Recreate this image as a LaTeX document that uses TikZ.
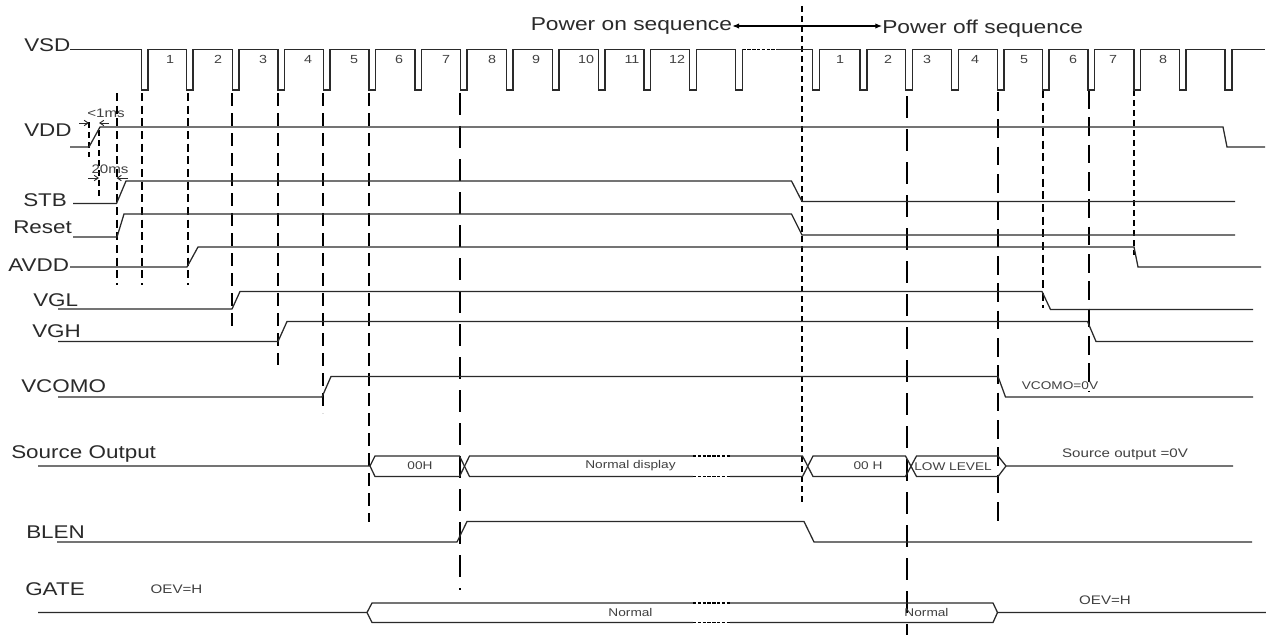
\documentclass[tikz,border=0pt]{standalone}
\usepackage{fontspec}
\setmainfont{Liberation Sans}
\newfontfamily\widefont[FakeStretch=1.22]{Liberation Sans}
\usetikzlibrary{arrows.meta}
\definecolor{ink}{HTML}{2A2A2A}
\definecolor{txt}{HTML}{2A2A2A}
\definecolor{smalltxt}{HTML}{404040}
\tikzset{
  wave/.style={draw=ink,line width=0.95pt,line join=miter},
  dots/.style={draw=black,line width=1.1pt,dash pattern=on 2.6pt off 1pt},
  guide/.style={draw=black,line width=1.3pt,dash pattern=on 10pt off 5pt},
  guidelong/.style={draw=black,line width=1.3pt,dash pattern=on 16.5pt off 8.25pt},
  guidemid/.style={draw=black,line width=1.3pt,dash pattern=on 14pt off 6.5pt},
  guideshort/.style={draw=black,line width=1.3pt,dash pattern=on 6pt off 3.5pt},
  guidefine/.style={draw=black,line width=1.3pt,dash pattern=on 4.5pt off 3pt},
  sig/.style={text=txt,font=\widefont\fontsize{13.8}{16}\selectfont,inner sep=0pt},
  num/.style={text=smalltxt,font=\widefont\fontsize{8.8}{10}\selectfont,inner sep=0pt},
  lab/.style={text=smalltxt,font=\widefont\fontsize{8.4}{10}\selectfont,inner sep=0pt},
  labbig/.style={text=smalltxt,font=\widefont\fontsize{9.3}{11}\selectfont,inner sep=0pt},
  seq/.style={text=txt,font=\widefont\fontsize{14}{16}\selectfont,inner sep=0pt},
  dim/.style={draw=ink,line width=0.7pt,-{Straight Barb[length=3pt,width=4pt]}},
  seqarrow/.style={draw=black,line width=0.8pt,-{Latex[length=5pt,width=4pt]}}
}
\begin{document}
\begin{tikzpicture}[x=0.75pt,y=-0.75pt]
\useasboundingbox (0,0) rectangle (1266,635);
% guides
\draw[guidefine] (89,122) -- (89,157);
\draw[guidefine] (99,130) -- (99,200);
\draw[guideshort] (117,93) -- (117,285);
\draw[guideshort] (142,93) -- (142,285);
\draw[guideshort] (188,93) -- (188,285);
\draw[guide] (232,93) -- (232,331);
\draw[guide] (278,93) -- (278,365);
\draw[guide] (323,93) -- (323,413);
\draw[guide] (369,93) -- (369,522);
\draw[guidelong] (460,93) -- (460,590);
\draw[guidefine] (802,6) -- (802,506);
\draw[guidelong] (907,96) -- (907,635);
\draw[guidemid] (998,92) -- (998,522);
\draw[guideshort] (1043,90) -- (1043,308);
\draw[guidemid] (1089,90) -- (1089,392);
\draw[guidefine] (1134,90) -- (1134,255);
% VSD
\draw[wave] (70,49.5) -- (141.5,49.5)
 -- (141.5,90) -- (148,90) -- (148,49.5) -- (186.5,49.5)
 -- (186.5,90) -- (193,90) -- (193,49.5) -- (232.5,49.5)
 -- (232.5,90) -- (239,90) -- (239,49.5) -- (278,49.5)
 -- (278,90) -- (284.5,90) -- (284.5,49.5) -- (323.5,49.5)
 -- (323.5,90) -- (330,90) -- (330,49.5) -- (369,49.5)
 -- (369,90) -- (375.5,90) -- (375.5,49.5) -- (415,49.5)
 -- (415,90) -- (421.5,90) -- (421.5,49.5) -- (460.5,49.5)
 -- (460.5,90) -- (467,90) -- (467,49.5) -- (506.5,49.5)
 -- (506.5,90) -- (513,90) -- (513,49.5) -- (552.5,49.5)
 -- (552.5,90) -- (559,90) -- (559,49.5) -- (598.5,49.5)
 -- (598.5,90) -- (605,90) -- (605,49.5) -- (644,49.5)
 -- (644,90) -- (650.5,90) -- (650.5,49.5) -- (689.5,49.5)
 -- (689.5,90) -- (696.5,90) -- (696.5,49.5) -- (735.5,49.5)
 -- (735.5,90) -- (742.5,90) -- (742.5,49.5);
\draw[dots] (742.5,49.5) -- (776,49.5);
\draw[wave] (776,49.5) -- (812.5,49.5)
 -- (812.5,90) -- (819.5,90) -- (819.5,49.5) -- (860,49.5)
 -- (860,90) -- (867,90) -- (867,49.5) -- (905.5,49.5)
 -- (905.5,90) -- (912.5,90) -- (912.5,49.5) -- (951.5,49.5)
 -- (951.5,90) -- (958.5,90) -- (958.5,49.5) -- (997.5,49.5)
 -- (997.5,90) -- (1004,90) -- (1004,49.5) -- (1042.5,49.5)
 -- (1042.5,90) -- (1049,90) -- (1049,49.5) -- (1088,49.5)
 -- (1088,90) -- (1094.5,90) -- (1094.5,49.5) -- (1134,49.5)
 -- (1134,90) -- (1140.5,90) -- (1140.5,49.5) -- (1179.5,49.5)
 -- (1179.5,90) -- (1186,90) -- (1186,49.5) -- (1225,49.5)
 -- (1225,90) -- (1232,90) -- (1232,49.5) -- (1265,49.5);
% levels
\draw[wave] (70,147) -- (89,147) -- (100,127) -- (1223,127) -- (1227,147) -- (1265,147);
\draw[wave] (73,203.5) -- (116.5,203.5) -- (126,181) -- (791.5,181) -- (802,201.5) -- (1235,201.5);
\draw[wave] (73,237) -- (117,237) -- (124,214) -- (791.5,214) -- (802,235) -- (1235,235);
\draw[wave] (70,267) -- (187,267) -- (198,247) -- (1134,247) -- (1138,267) -- (1261,267);
\draw[wave] (58,309) -- (232,309) -- (240,291.5) -- (1042,291.5) -- (1050.5,309.5) -- (1253,309.5);
\draw[wave] (58,341.5) -- (278,341.5) -- (287,321.5) -- (1087.5,321.5) -- (1096,341.5) -- (1253,341.5);
\draw[wave] (58,397) -- (322,397) -- (331,376.5) -- (998,376.5) -- (1005.5,397) -- (1253,397);
% Source Output
\draw[wave] (38,466) -- (370,466) -- (375,456) -- (459.5,456) -- (469.5,476.5) -- (693,476.5);
\draw[wave] (370,466) -- (375,476.5) -- (459.5,476.5) -- (469.5,456) -- (693,456);
\draw[dots] (693,456) -- (730,456);
\draw[dots] (693,476.5) -- (730,476.5);
\draw[wave] (730,456) -- (802.5,456) -- (813,476.5) -- (905.5,476.5) -- (916.5,456) -- (998,456) -- (1006,466) -- (1233,466);
\draw[wave] (730,476.5) -- (802.5,476.5) -- (813,456) -- (905.5,456) -- (916.5,476.5) -- (998,476.5) -- (1006,466);
% BLEN
\draw[wave] (57,542) -- (457,542) -- (467,521.5) -- (804,521.5) -- (814,542) -- (1252,542);
% GATE
\draw[wave] (38,612.5) -- (367,612.5) -- (372,603) -- (693,603);
\draw[wave] (367,612.5) -- (372,622.5) -- (693,622.5);
\draw[dots] (693,603) -- (730,603);
\draw[dots] (693,622.5) -- (730,622.5);
\draw[wave] (730,603) -- (993,603) -- (997.5,612.5) -- (1266,612.5);
\draw[wave] (730,622.5) -- (993,622.5) -- (997.5,612.5);
% labels
\node[sig,anchor=west] (vsd) at (24,45) {VSD};
\node[sig,anchor=west] (vdd) at (24,130) {VDD};
\node[sig,anchor=west] (stb) at (23,200) {STB};
\node[sig,anchor=west] (reset) at (13,227) {Reset};
\node[sig,anchor=west] (avdd) at (8,265) {AVDD};
\node[sig,anchor=west] (vgl) at (33,300) {VGL};
\node[sig,anchor=west] (vgh) at (32,331) {VGH};
\node[sig,anchor=west] (vcomo) at (21,386) {VCOMO};
\node[sig,anchor=west] (srcout) at (11,453.5) {Source Output};
\node[sig,anchor=west] (blen) at (26,532) {BLEN};
\node[sig,anchor=west] (gate) at (25,589) {GATE};
\foreach \n/\x/\t in {a1/170/1,a2/218/2,a3/263/3,a4/308/4,a5/354/5,a6/399/6,a7/446/7,a8/492/8,a9/536/9,a10/586/10,a11/632/11,a12/677/12,
  b1/840/1,b2/888/2,b3/927/3,b4/975/4,b5/1024/5,b6/1073/6,b7/1113/7,b8/1163/8}
  \node[num] (n\n) at (\x,59.5) {\t};
\node[lab] (oh1) at (420,466) {00H};
\node[lab] (nd) at (630.5,466) {Normal display};
\node[lab] (oh2) at (868,466) {00 H};
\node[lab] (ll) at (953,466.5) {LOW LEVEL};
\node[labbig] (so0) at (1125,454) {Source output =0V};
\node[lab] (vc0) at (1060,386) {VCOMO=0V};
\node[lab] (nrm1) at (630.5,612) {Normal};
\node[lab] (nrm2) at (926.5,612) {Normal};
\node[labbig] (oev1) at (176.5,589) {OEV=H};
\node[labbig] (oev2) at (1105,600) {OEV=H};
\node[labbig] (t1) at (106,113) {<1ms};
\node[labbig] (t2) at (110,169) {20ms};
% dimension arrows
\coordinate (d1a) at (79,123); \coordinate (d1b) at (89,123);
\coordinate (d2a) at (109,123); \coordinate (d2b) at (99,123);
\coordinate (d3a) at (88,178); \coordinate (d3b) at (99,178);
\coordinate (d4a) at (128,178); \coordinate (d4b) at (116.5,178);
\draw[dim] (d1a) -- (d1b);
\draw[dim] (d2a) -- (d2b);
\draw[dim] (d3a) -- (d3b);
\draw[dim] (d4a) -- (d4b);
% sequence
\node[seq,anchor=west] (pon) at (530.5,26) {Power on sequence};
\node[seq,anchor=west] (poff) at (882,28.5) {Power off sequence};
\coordinate (mid) at (802,26);
\draw[seqarrow] (mid) -- (pon.east |- mid);
\draw[seqarrow] (mid) -- (poff.west |- mid);
\end{tikzpicture}
\end{document}
